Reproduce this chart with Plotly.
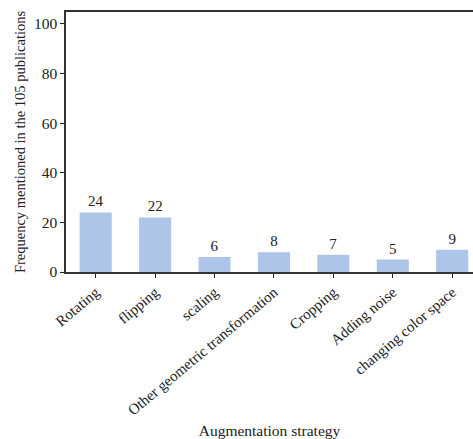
import plotly.graph_objects as go

strategies = ["Rotating", "flipping", "scaling", "Other geometric transformation",
              "Cropping", "Adding noise", "changing color space"]
counts = [24, 22, 6, 8, 7, 5, 9]

FONT = "Liberation Serif"

fig = go.Figure(go.Bar(
    x=list(range(len(strategies))),
    y=counts,
    text=[str(c) for c in counts],
    textposition="outside",
    textfont=dict(family=FONT, size=15, color="#222222"),
    marker=dict(color="#aec5ea", line=dict(width=0)),
    width=0.54,
    cliponaxis=False,
))

fig.update_layout(
    width=473, height=439,
    margin=dict(l=66, r=0, t=12, b=167),
    plot_bgcolor="white", paper_bgcolor="white",
    showlegend=False,
    font=dict(family=FONT, size=15, color="#222222"),
    xaxis=dict(
        range=[-0.5, 6.35],
        automargin=False,
        tickmode="array",
        tickvals=list(range(len(strategies))),
        ticktext=strategies,
        tickangle=-40,
        ticks="outside", ticklen=4, tickcolor="#222222",
        showline=True, linecolor="#333333", linewidth=1.5, mirror=True,
        showgrid=False, zeroline=False,
        tickfont=dict(family=FONT, size=15),
        title=dict(text="Augmentation strategy", font=dict(family=FONT, size=15.5), standoff=8),
    ),
    yaxis=dict(
        range=[0, 104.8],
        automargin=False,
        tickmode="linear", tick0=0, dtick=20,
        ticks="outside", ticklen=4, tickcolor="#222222",
        showline=True, linecolor="#333333", linewidth=1.5,
        showgrid=False, zeroline=False,
        tickfont=dict(family=FONT, size=15.5),
        title=dict(text="Frequency mentioned in the 105 publications",
                   font=dict(family=FONT, size=14.5), standoff=5),
    ),
)

fig.write_html("out.html")
